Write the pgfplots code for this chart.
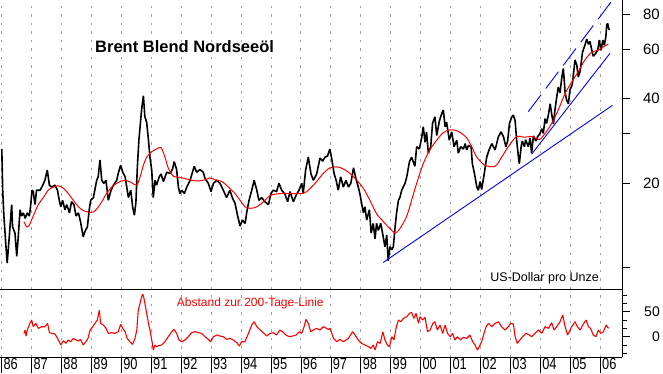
\documentclass[border=0pt]{standalone}
\usepackage{fontspec}
\setmainfont{Liberation Sans}
\usepackage{graphicx}
\usepackage{pgfplots}
\pgfplotsset{compat=1.18}
\definecolor{gridgray}{RGB}{160,160,160}
\definecolor{pured}{RGB}{255,0,0}
\definecolor{pureblue}{RGB}{0,0,255}
\newcommand\yr[1]{\rule[-3.5pt]{0.8pt}{15.5pt}\hspace{1.5pt}\scalebox{0.8}[1]{#1}}
\begin{document}
\begin{tikzpicture}[x=1pt,y=1pt]
\useasboundingbox (0,0) rectangle (663,-373);
\begin{axis}[
  at={(0pt,0pt)}, anchor=north west,
  width=622pt, height=289pt, scale only axis,
  xmin=1985.95, xmax=2006.73, ymode=log, ymin=8.41, ymax=89.9,
  axis x line*=bottom, axis y line*=right, axis line style={-, line width=0.9pt},
  xtick={1986,...,2006}, xticklabels={}, xmajorgrids, major x tick style={draw=none},
  grid style={gridgray, line width=0.7pt, dash pattern=on 2.5pt off 6pt},
  ytick={10,20,30,40,60,80}, yticklabels={,20,,40,60,80},
  minor y tick style={draw=none},
  tick align=outside, major tick length=8pt, major y tick style={line width=0.8pt, black},
  yticklabel style={anchor=east, inner sep=0pt, xshift=30pt, font=\fontsize{15}{15}\selectfont},
  clip=true,
]
\addplot[black, line width=1.6pt, line join=bevel] coordinates {
(1986.01,26.5)(1986.04,18.9)(1986.08,15.3)(1986.15,11.9)(1986.19,10.4)(1986.26,12.9)(1986.34,16.8)(1986.37,14.0)(1986.45,13.3)(1986.51,11.0)(1986.56,12.9)(1986.62,16.1)(1986.67,15.3)(1986.73,15.7)(1986.79,15.0)(1986.86,15.7)(1986.93,15.3)(1986.97,16.5)
(1987.02,18.9)(1987.06,18.7)(1987.12,16.8)(1987.17,18.9)(1987.29,18.9)(1987.38,19.7)(1987.45,20.5)(1987.53,22.3)(1987.60,19.7)(1987.68,19.4)(1987.79,19.7)(1987.87,18.9)(1987.93,17.4)(1987.98,16.5)
(1988.04,17.4)(1988.12,16.1)(1988.18,16.8)(1988.27,15.7)(1988.34,17.2)(1988.42,16.8)(1988.49,15.3)(1988.57,15.7)(1988.64,14.6)(1988.73,12.9)(1988.79,13.5)(1988.87,14.0)(1988.93,16.1)(1988.98,17.4)
(1989.07,17.8)(1989.18,20.5)(1989.23,21.1)(1989.29,24.2)(1989.35,20.5)(1989.42,20.0)(1989.49,20.5)(1989.57,17.4)(1989.66,18.9)(1989.74,19.7)(1989.85,20.5)(1989.90,21.7)(1989.98,23.2)
(1990.05,21.9)(1990.13,21.1)(1990.24,17.8)(1990.32,18.9)(1990.38,16.5)(1990.44,15.4)(1990.49,17.1)(1990.54,23.0)(1990.59,28.5)(1990.63,31.8)(1990.68,36.5)(1990.74,41.0)(1990.79,34.5)(1990.85,33.0)(1990.91,28.5)(1990.96,24.8)
(1991.02,22.2)(1991.07,17.8)(1991.13,20.5)(1991.18,19.7)(1991.27,21.1)(1991.33,21.6)(1991.41,20.3)(1991.52,21.9)(1991.63,21.7)(1991.71,22.4)(1991.77,23.9)(1991.85,22.4)(1991.91,19.4)(1991.96,18.4)
(1992.02,18.9)(1992.11,18.4)(1992.19,19.4)(1992.30,20.5)(1992.38,21.9)(1992.44,23.0)(1992.52,21.9)(1992.63,22.4)(1992.74,21.9)(1992.80,20.8)(1992.91,20.0)
(1993.00,18.7)(1993.08,20.0)(1993.19,20.5)(1993.30,20.0)(1993.41,18.9)(1993.52,17.8)(1993.63,18.9)(1993.71,17.8)(1993.80,17.0)(1993.89,15.3)(1993.97,14.1)
(1994.05,14.8)(1994.14,14.4)(1994.19,15.7)(1994.27,17.4)(1994.36,18.9)(1994.44,20.5)(1994.53,18.9)(1994.60,17.4)(1994.69,17.8)(1994.80,17.2)(1994.92,16.8)
(1995.00,18.4)(1995.08,18.9)(1995.19,18.7)(1995.27,20.0)(1995.36,18.9)(1995.47,18.3)(1995.56,17.2)(1995.64,18.7)(1995.75,17.2)(1995.86,18.3)(1995.94,18.9)
(1996.03,20.0)(1996.08,18.4)(1996.16,22.3)(1996.25,24.8)(1996.34,21.6)(1996.42,20.5)(1996.53,21.6)(1996.64,24.6)(1996.73,24.0)(1996.81,24.8)(1996.89,25.0)(1996.97,26.5)
(1997.04,24.2)(1997.11,21.7)(1997.18,20.5)(1997.25,18.9)(1997.33,21.1)(1997.42,19.4)(1997.51,20.5)(1997.59,19.4)(1997.67,20.0)(1997.76,22.7)(1997.84,20.8)(1997.92,19.4)(1997.98,18.2)
(1998.03,17.0)(1998.09,15.7)(1998.14,16.5)(1998.20,14.8)(1998.29,16.1)(1998.35,13.3)(1998.42,14.4)(1998.48,12.7)(1998.53,14.4)(1998.59,13.6)(1998.67,14.4)(1998.73,13.3)(1998.81,11.9)(1998.87,13.1)(1998.92,10.6)(1998.98,11.9)
(1999.04,11.6)(1999.09,11.9)(1999.15,14.0)(1999.20,15.7)(1999.26,17.4)(1999.31,17.8)(1999.37,18.9)(1999.48,20.0)(1999.54,21.1)(1999.63,23.9)(1999.70,24.8)(1999.81,23.0)(1999.87,27.0)(1999.96,26.5)
(2000.04,29.2)(2000.09,31.8)(2000.15,28.0)(2000.20,30.5)(2000.26,25.6)(2000.34,27.0)(2000.40,32.7)(2000.48,34.5)(2000.54,29.6)(2000.63,33.4)(2000.71,35.5)(2000.76,36.5)(2000.82,31.8)(2000.87,33.0)(2000.96,28.5)
(2001.04,30.5)(2001.12,27.0)(2001.21,28.5)(2001.26,25.6)(2001.34,27.0)(2001.43,26.5)(2001.49,27.7)(2001.54,26.3)(2001.60,27.3)(2001.69,27.0)(2001.73,23.5)(2001.80,21.7)(2001.88,19.4)(2001.93,18.9)(2001.99,20.3)
(2002.04,19.0)(2002.13,21.7)(2002.21,24.8)(2002.29,26.3)(2002.38,27.7)(2002.49,26.3)(2002.60,29.3)(2002.69,30.5)(2002.77,29.3)(2002.85,27.0)(2002.91,28.3)(2002.97,32.7)
(2003.05,34.5)(2003.10,35.0)(2003.16,33.4)(2003.21,28.5)(2003.27,24.8)(2003.30,23.5)(2003.36,27.0)(2003.40,28.3)(2003.47,27.0)(2003.51,28.6)(2003.60,27.0)(2003.66,29.0)(2003.71,25.6)(2003.77,29.5)(2003.85,28.3)(2003.91,29.3)(2003.99,30.1)
(2004.05,31.3)(2004.10,30.1)(2004.16,34.0)(2004.21,32.7)(2004.27,35.0)(2004.33,38.4)(2004.38,35.3)(2004.44,32.5)(2004.49,36.5)(2004.55,40.6)(2004.60,44.0)(2004.66,42.0)(2004.72,47.8)(2004.77,51.3)(2004.83,42.0)(2004.88,39.6)(2004.94,38.4)(2004.99,43.0)
(2005.07,45.0)(2005.16,55.0)(2005.22,52.7)(2005.27,47.8)(2005.33,50.0)(2005.41,58.6)(2005.49,62.0)(2005.55,65.3)(2005.61,62.5)(2005.66,64.0)(2005.72,59.6)(2005.77,56.7)(2005.85,58.0)(2005.92,59.6)(2005.97,64.7)
(2006.03,59.6)(2006.09,64.7)(2006.14,62.0)(2006.19,66.5)(2006.22,73.3)(2006.25,74.2)(2006.30,70.3)
};
\addplot[pured, line width=1pt, smooth] coordinates {
(1986.75,14.6)(1986.84,14.0)(1986.93,14.2)(1987.06,15.3)(1987.23,16.8)(1987.40,17.8)(1987.56,18.9)(1987.73,19.4)(1987.90,19.6)(1988.07,19.2)(1988.23,18.4)(1988.40,17.4)(1988.57,16.5)(1988.73,16.0)(1988.90,15.8)(1989.07,15.8)(1989.20,16.3)(1989.35,17.2)(1989.51,18.4)(1989.68,19.4)(1989.85,20.0)(1990.01,20.4)(1990.16,20.5)(1990.35,20.1)(1990.52,19.7)(1990.63,21.1)(1990.74,23.2)(1990.85,24.8)(1991.02,25.9)(1991.18,26.5)(1991.33,26.8)(1991.46,24.8)(1991.57,22.7)(1991.74,21.2)(1991.96,21.0)(1992.13,20.8)(1992.35,20.5)(1992.58,20.4)(1992.80,20.6)(1992.97,20.9)(1993.13,20.6)(1993.36,20.3)(1993.58,19.4)(1993.80,18.4)(1993.97,17.4)(1994.14,16.5)(1994.30,16.3)(1994.47,16.4)(1994.64,16.8)(1994.80,17.4)(1994.97,18.1)(1995.14,18.3)(1995.36,18.4)(1995.58,18.4)(1995.81,18.4)(1996.03,18.4)(1996.20,18.7)(1996.36,19.4)(1996.53,20.3)(1996.75,21.7)(1996.97,22.7)(1997.20,22.9)(1997.42,22.5)(1997.64,21.7)(1997.87,20.5)(1998.09,19.2)(1998.31,17.4)(1998.53,15.6)(1998.76,14.6)(1998.98,13.8)(1999.15,13.3)(1999.31,13.8)(1999.54,15.3)(1999.70,17.4)(1999.87,20.0)(2000.09,23.5)(2000.31,26.3)(2000.54,28.5)(2000.76,30.3)(2000.98,31.0)(2001.21,30.8)(2001.43,29.8)(2001.55,29.0)(2001.71,27.0)(2001.88,24.8)(2002.15,23.2)(2002.49,23.0)(2002.71,24.8)(2002.93,27.0)(2003.21,29.4)(2003.43,29.2)(2003.60,29.3)(2003.77,29.3)(2003.96,28.6)(2004.16,30.1)(2004.38,32.7)(2004.60,36.5)(2004.83,41.8)(2005.05,45.9)(2005.27,50.0)(2005.49,55.0)(2005.72,58.6)(2005.94,59.6)(2006.11,61.2)(2006.27,62.7)
};
\addplot[pureblue, line width=0.9pt] coordinates {(1998.75,10.45)(2006.41,37.9)};
\addplot[pureblue, line width=0.9pt] coordinates {(2003.71,25.4)(2006.33,58.1)};
\addplot[pureblue, line width=0.9pt, dash pattern=on 21pt off 8pt] coordinates {(2003.60,36.0)(2006.36,88.3)};
\end{axis}
\begin{axis}[
  at={(0pt,-289pt)}, anchor=north west,
  width=622pt, height=68pt, scale only axis,
  xmin=1985.95, xmax=2006.73, ymin=-40.6, ymax=95.4,
  axis x line*=bottom, axis y line*=right, axis line style={-, line width=0.9pt},
  xtick={1986,...,2006},
  xticklabels={\yr{86},\yr{87},\yr{88},\yr{89},\yr{90},\yr{91},\yr{92},\yr{93},\yr{94},\yr{95},\yr{96},\yr{97},\yr{98},\yr{99},\yr{00},\yr{01},\yr{02},\yr{03},\yr{04},\yr{05},\yr{06}},
  xmajorgrids, major x tick style={draw=none},
  xticklabel style={anchor=north west, inner sep=0pt, xshift=-0.4pt, yshift=8pt, font=\fontsize{16}{16}\selectfont},
  grid style={gridgray, line width=0.7pt, dash pattern=on 2.5pt off 6pt},
  ytick={0,50}, yticklabels={0,50},
  minor ytick={-33.3,-16.7,16.7,33.3,66.7,83.3},
  tick align=outside, major tick length=8pt, minor tick length=5pt,
  major y tick style={line width=0.8pt, black}, minor y tick style={line width=0.8pt, black},
  yticklabel style={anchor=east, inner sep=0pt, xshift=30pt, font=\fontsize{14}{14}\selectfont},
  clip=true,
]
\addplot[pured, line width=1.1pt, line join=bevel] coordinates {
(1986.75,6.7)(1986.79,13.4)(1986.82,1.4)(1986.86,13.4)(1986.95,26.7)(1987.01,33.4)(1987.06,20)(1987.15,26.7)(1987.23,16.7)(1987.34,20)(1987.45,20)(1987.54,26.7)(1987.60,8.1)(1987.68,6.7)(1987.79,5.4)(1987.87,-3.3)(1987.93,-10)(1987.98,-16.6)
(1988.07,-8)(1988.15,-13.3)(1988.23,-6.6)(1988.31,-10)(1988.40,-3.3)(1988.49,-6.6)(1988.57,-8.6)(1988.64,-5.3)(1988.73,-16.6)(1988.82,-10)(1988.89,-3.3)(1988.96,13.4)
(1989.05,20)(1989.12,26.7)(1989.20,33.4)(1989.27,53.4)(1989.31,26.7)(1989.40,23.4)(1989.49,16.7)(1989.57,6.7)(1989.68,8.1)(1989.79,6.7)(1989.90,10)(1989.98,24.7)
(1990.05,16.7)(1990.13,10)(1990.20,-3.3)(1990.29,-10)(1990.38,-15.3)(1990.46,-3.3)(1990.52,13.4)(1990.57,53.4)(1990.63,66.7)(1990.68,80)(1990.72,85.4)(1990.76,76.7)(1990.81,60)(1990.85,46.7)(1990.91,26.7)(1990.96,13.4)
(1991.02,-6.6)(1991.07,-26.6)(1991.13,-16.6)(1991.18,-20)(1991.27,-17.3)(1991.35,-16.6)(1991.46,-10)(1991.57,0)(1991.69,10)(1991.76,14.7)(1991.85,6.7)(1991.93,-6.6)
(1992.02,-10)(1992.13,-6.6)(1992.24,0)(1992.35,8)(1992.46,10)(1992.58,8)(1992.69,6.7)(1992.80,0)(1992.91,-5.3)(1992.99,-10)
(1993.08,0)(1993.19,3.4)(1993.30,1.4)(1993.41,0)(1993.52,-5.3)(1993.63,-3.3)(1993.75,-6.6)(1993.86,-12)(1993.95,-18.6)
(1994.02,-10)(1994.13,-10)(1994.25,6.7)(1994.36,23.4)(1994.44,30)(1994.53,20)(1994.64,13.4)(1994.75,8)(1994.86,1.4)(1994.97,6.7)
(1995.08,8)(1995.19,3.4)(1995.30,13.4)(1995.39,10)(1995.50,3.4)(1995.62,0)(1995.73,1.4)(1995.84,3.4)(1995.95,10)
(1996.03,6.7)(1996.11,20)(1996.17,34.7)(1996.25,26.7)(1996.33,10)(1996.42,13.4)(1996.53,16.7)(1996.64,13.4)(1996.75,20)(1996.92,14.7)(1996.98,16.7)
(1997.09,-3.3)(1997.20,-10)(1997.31,-5.3)(1997.42,-10)(1997.59,-3.3)(1997.73,10)(1997.81,3.4)(1997.92,-6.6)
(1998.03,-13.3)(1998.14,-16.6)(1998.26,-20)(1998.34,-23.3)(1998.42,-16.6)(1998.48,-26.6)(1998.56,-10)(1998.65,-13.3)(1998.74,10)(1998.81,-6.6)(1998.89,-16.6)(1998.96,-20)
(1999.04,0)(1999.11,-6.6)(1999.18,16.7)(1999.26,33.4)(1999.34,30)(1999.43,36.7)(1999.54,40)(1999.63,46.7)(1999.70,48.7)(1999.78,36.7)(1999.85,46.7)(1999.93,26.7)(1999.98,40)
(2000.07,33.4)(2000.15,38.7)(2000.23,10)(2000.32,13.4)(2000.41,26.7)(2000.48,30)(2000.56,13.4)(2000.65,23.4)(2000.74,6.7)(2000.82,23.4)(2000.90,6.7)(2000.99,0)
(2001.07,6.7)(2001.15,-6.6)(2001.23,0)(2001.34,-6.6)(2001.43,-1.3)(2001.54,-3.3)(2001.65,3.4)(2001.74,-10)(2001.82,-16.6)(2001.90,-26.6)(2001.96,-20)
(2002.04,-10)(2002.12,6.7)(2002.19,20)(2002.27,26.7)(2002.38,20)(2002.49,26.7)(2002.60,30)(2002.71,20)(2002.82,13.4)(2002.93,20)
(2003.01,26.7)(2003.10,25.4)(2003.16,0)(2003.23,-13.3)(2003.32,-6.6)(2003.41,0)(2003.52,6.7)(2003.64,3.4)(2003.71,0)(2003.82,6.7)(2003.94,13.4)
(2004.05,6.7)(2004.16,20)(2004.27,16.7)(2004.38,28)(2004.46,13.4)(2004.55,20)(2004.66,30)(2004.75,43.4)(2004.83,20)(2004.91,3.4)(2004.97,10)
(2005.05,20)(2005.16,30)(2005.24,20)(2005.33,13.4)(2005.42,23.4)(2005.53,33.4)(2005.61,20)(2005.68,16.7)(2005.77,3.4)(2005.86,0)(2005.94,13.4)
(2006.02,6.7)(2006.11,10)(2006.20,23.4)(2006.28,16.7)
};
\end{axis}
\node[anchor=base west, inner sep=0pt, font=\fontsize{16.5}{16.5}\selectfont\bfseries] at (95,-52.3) {Brent Blend Nordseeöl};
\node[anchor=base east, inner sep=0pt, font=\fontsize{12.5}{12.5}\selectfont] at (599,-281.5) {US-Dollar pro Unze};
\node[anchor=base west, inner sep=0pt, text=pured, font=\fontsize{12}{12}\selectfont] at (176.7,-306.5) {Abstand zur 200-Tage-Linie};
\end{tikzpicture}
\end{document}
